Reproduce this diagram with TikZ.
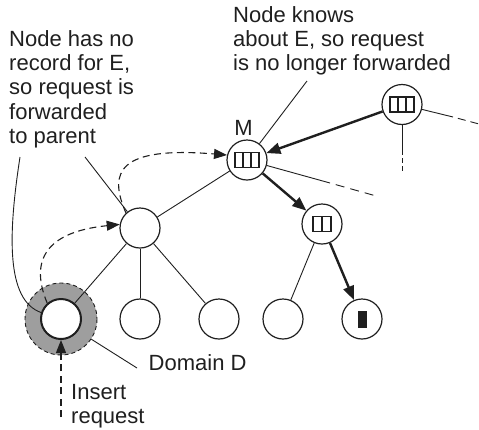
\documentclass[tikz,border=0pt]{standalone}
\usepackage{fontspec}
\setmainfont{Liberation Sans}
\usetikzlibrary{arrows.meta}
\definecolor{ink}{gray}{0.12}
\begin{document}
\begin{tikzpicture}[x=1pt,y=-1pt,
  txt/.style={anchor=base west, inner sep=0, font=\fontsize{22}{24}\selectfont, text=ink},
  vertex/.style={circle, draw=ink, line width=1.2pt, fill=white, minimum size=40pt, inner sep=0},
  edge/.style={draw=ink, line width=0.9pt},
  hop/.style={draw=ink, line width=2.4pt, -{Triangle[length=14pt,width=11pt]}},
  probe/.style={draw=ink, line width=1.1pt, dash pattern=on 7pt off 4.5pt, -{Triangle[length=13pt,width=10pt]}},
  cellbox/.style={draw=ink, line width=1.3pt},
]
\useasboundingbox (0,0) rectangle (479,429);

% shaded domain around the inserting leaf
\fill[black!38] (61,319) circle (36);
\draw[ink, line width=0.9pt, dash pattern=on 4pt off 3pt] (61,319) circle (36);

% tree nodes
\node[vertex, line width=2pt] (D) at (61,319) {};
\node[vertex] (P)  at (140,228) {};
\node[vertex] (L2) at (140,319) {};
\node[vertex] (L3) at (219,319) {};
\node[vertex] (M)  at (247,160) {};
\node[vertex] (N2) at (322,224) {};
\node[vertex] (L4) at (283,319) {};
\node[vertex] (L5) at (362,319) {};
\node[vertex] (R)  at (402,104.5) {};

% record boxes inside the nodes
\begin{scope}[shift={(M)}]
  \draw[cellbox] (-12,-7.5) rectangle (12,7.5);
  \draw[cellbox] (-4,-7.5) -- (-4,7.5) (4,-7.5) -- (4,7.5);
\end{scope}
\begin{scope}[shift={(R)}]
  \draw[cellbox] (-12,-7.5) rectangle (12,7.5);
  \draw[cellbox] (-4,-7.5) -- (-4,7.5) (4,-7.5) -- (4,7.5);
\end{scope}
\begin{scope}[shift={(N2)}]
  \draw[cellbox] (-9,-7.5) rectangle (9,7.5);
  \draw[cellbox] (0,-7.5) -- (0,7.5);
\end{scope}
\fill[ink] (357.5,310.5) rectangle (366.5,327.5);

% tree edges
\draw[edge] (P) -- (D);
\draw[edge] (P) -- (L2);
\draw[edge] (P) -- (L3);
\draw[edge] (M) -- (P);
\draw[edge] (N2) -- (L4);

% edges leading off to the rest of the tree
\coordinate (mOut1) at (330,183);
\coordinate (mOut2) at (378,196.5);
\draw[edge] (M) -- (mOut1);
\draw[edge, dash pattern=on 9pt off 6pt, dash phase=9pt] (mOut1) -- (mOut2);
\coordinate (rOut1) at (453,117);
\coordinate (rOut2) at (479,124);
\draw[edge] (R) -- (rOut1);
\draw[edge, dash pattern=on 8pt off 5pt, dash phase=8pt] (rOut1) -- (rOut2);
\coordinate (rDown1) at (402,155);
\coordinate (rDown2) at (402,172);
\draw[edge] (R) -- (rDown1);
\draw[edge, dash pattern=on 5pt off 3pt, dash phase=5pt] (rDown1) -- (rDown2);

% lookup path
\draw[hop] (R) -- (M);
\draw[hop] (M) -- (N2);
\draw[hop] (N2) -- (L5);

% forwarded insert request
\coordinate (insStart) at (61,417);
\draw[probe] (insStart) -- (D);
\draw[probe] (D.131) .. controls (30,262) and (44,232) .. (P.170);
\draw[probe] (P.133) .. controls (108,172) and (118,146) .. (M.166);

% labels
\node[txt] (t1) at (9,46.5)   {Node has no};
\node[txt] (t2) at (9,70.7)   {record for E,};
\node[txt] (t3) at (9,94.9)   {so request is};
\node[txt] (t4) at (9,119.1)  {forwarded};
\node[txt] (t5) at (9,143.3)  {to parent};

\node[txt] (u1) at (233,22.5) {Node knows};
\node[txt] (u2) at (233,46.7) {about E, so request};
\node[txt] (u3) at (233,70.9) {is no longer forwarded};

\node[txt, anchor=base] (mlbl) at (243.5,135.5) {M};

\node[txt] (dom) at (148.5,370) {Domain D};
\node[txt] (in1) at (71,399) {Insert};
\node[txt] (in2) at (71,423) {request};

% callout lines
\coordinate (cLeftA) at (20,157);
\coordinate (cLeftB) at (85,157);
\coordinate (cRight) at (307,81);
\coordinate (ringPt) at (91,339);
\coordinate (domEnd) at (137,368);
\draw[edge] (cLeftA) .. controls (8,235) and (6,300) .. (D.162);
\draw[edge] (cLeftB) -- (P);
\draw[edge] (cRight) -- (M);
\draw[edge] (ringPt) -- (domEnd);
\end{tikzpicture}
\end{document}
